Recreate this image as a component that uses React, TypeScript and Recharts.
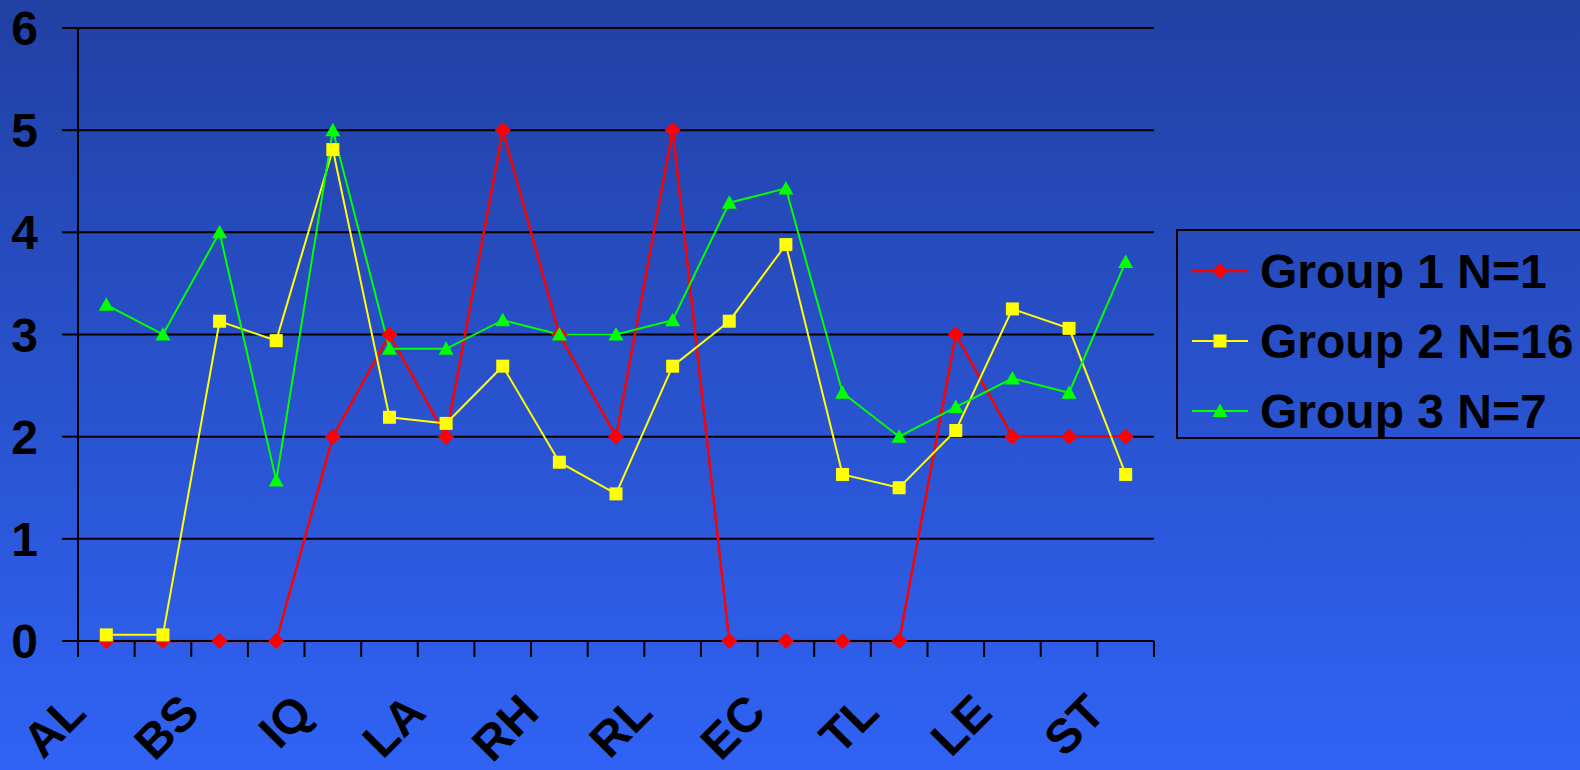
import React from 'react';
import { LineChart, Line, XAxis, YAxis, CartesianGrid, Legend } from 'recharts';

// 19 measures, Excel only had room to print every other name
const categories = ['AL', '', 'BS', '', 'IQ', '', 'LA', '', 'RH', '', 'RL', '', 'EC', '', 'TL', '', 'LE', '', 'ST'];

const group1 = [0, 0, 0, 0, 2, 3, 2, 5, 3, 2, 5, 0, 0, 0, 0, 3, 2, 2, 2];
const group2 = [0.06, 0.06, 3.13, 2.94, 4.81, 2.19, 2.13, 2.69, 1.75, 1.44, 2.69, 3.13, 3.88, 1.63, 1.5, 2.06, 3.25, 3.06, 1.63];
const group3 = [3.29, 3, 4, 1.57, 5, 2.86, 2.86, 3.14, 3, 3, 3.14, 4.29, 4.43, 2.43, 2, 2.29, 2.57, 2.43, 3.71];

const yTicks = [0, 1, 2, 3, 4, 5, 6];
const seriesNames = ['Group 1 N=1', 'Group 2 N=16', 'Group 3 N=7'];

const data = categories.map((label, i) => ({
  slot: i,
  label,
  g1: group1[i],
  g2: group2[i],
  g3: group3[i],
}));

const FONT = '"Liberation Sans", Arial, sans-serif';

const Diamond = ({ cx, cy, fill }: any) => {
  if (cx == null || cy == null) return null;
  const r = 8;
  return <polygon points={`${cx},${cy - r} ${cx + r},${cy} ${cx},${cy + r} ${cx - r},${cy}`} fill={fill} />;
};

const Square = ({ cx, cy, fill }: any) => {
  if (cx == null || cy == null) return null;
  return <rect x={cx - 6.5} y={cy - 6.5} width={13} height={13} fill={fill} />;
};

const Triangle = ({ cx, cy, fill }: any) => {
  if (cx == null || cy == null) return null;
  return <polygon points={`${cx},${cy - 7.5} ${cx + 7.5},${cy + 6} ${cx - 7.5},${cy + 6}`} fill={fill} />;
};

const series = [
  { key: 'g1', name: seriesNames[0], color: '#ff0000', width: 2.5, Shape: Diamond },
  { key: 'g2', name: seriesNames[1], color: '#ffff00', width: 2, Shape: Square },
  { key: 'g3', name: seriesNames[2], color: '#00ff00', width: 2, Shape: Triangle },
];

// Excel puts the tick marks between categories; label every other category
const CategoryTick = ({ x, y, payload, index }: any) => {
  const half = payload.offset ?? 0;
  const label = categories[payload.value];
  const ax = x - 18;
  const ay = y + 74;
  const last = index === categories.length - 1;
  return (
    <g>
      <line x1={x - half} y1={y} x2={x - half} y2={y + 16} stroke="#000" strokeWidth={2} />
      {last && <line x1={x + half} y1={y} x2={x + half} y2={y + 16} stroke="#000" strokeWidth={2} />}
      {label && (
        <text
          x={ax}
          y={ay}
          textAnchor="end"
          transform={`rotate(-45 ${ax} ${ay})`}
          fill="#000"
          fontSize={48}
          fontWeight="bold"
          fontFamily={FONT}
        >
          {label}
        </text>
      )}
    </g>
  );
};

const LegendBox = () => (
  <div
    style={{
      border: '2px solid #000',
      height: 210,
      paddingTop: 5,
      boxSizing: 'border-box',
      fontFamily: FONT,
    }}
  >
    {series.map((s) => (
      <div key={s.key} style={{ display: 'flex', alignItems: 'center', height: 70, paddingLeft: 14 }}>
        <svg width={56} height={20} style={{ display: 'block' }}>
          <line x1={0} y1={10} x2={56} y2={10} stroke={s.color} strokeWidth={s.width} />
          <s.Shape cx={28} cy={10} fill={s.color} />
        </svg>
        <span style={{ marginLeft: 12, fontSize: 48, fontWeight: 'bold', color: '#000', whiteSpace: 'nowrap' }}>
          {s.name}
        </span>
      </div>
    ))}
  </div>
);

export default function App() {
  return (
    <div
      style={{
        position: 'relative',
        width: 1580,
        height: 770,
        overflow: 'hidden',
        background: 'linear-gradient(to bottom, #2140a3 0%, #3063f5 100%)',
      }}
    >
      <style>{'body { margin: 0; }'}</style>
      <LineChart width={1580} height={770} data={data} margin={{ top: 28, right: 426, bottom: 128, left: 0 }}>
        <CartesianGrid vertical={false} stroke="#000" strokeWidth={2} />
        <XAxis
          dataKey="slot"
          type="category"
          scale="band"
          height={1}
          interval={0}
          tickSize={0}
          tickMargin={0}
          tickLine={false}
          axisLine={{ stroke: '#000', strokeWidth: 2 }}
          tick={<CategoryTick />}
        />
        <YAxis
          width={78}
          domain={[0, 6]}
          ticks={yTicks}
          interval={0}
          tickSize={16}
          tickMargin={24}
          axisLine={{ stroke: '#000', strokeWidth: 2 }}
          tickLine={{ stroke: '#000', strokeWidth: 2 }}
          tick={{ fill: '#000', fontSize: 48, fontWeight: 'bold', fontFamily: FONT }}
        />
        <Legend
          layout="vertical"
          align="center"
          verticalAlign="middle"
          wrapperStyle={{ left: 1176, top: 229, width: 430, height: 210 }}
          content={<LegendBox />}
        />
        {series.map((s) => (
          <Line
            key={s.key}
            type="linear"
            dataKey={s.key}
            name={s.name}
            stroke={s.color}
            strokeWidth={s.width}
            dot={(p: any) => <s.Shape key={`${s.key}-${p.index}`} cx={p.cx} cy={p.cy} fill={s.color} />}
            activeDot={false}
            isAnimationActive={false}
          />
        ))}
      </LineChart>
    </div>
  );
}
